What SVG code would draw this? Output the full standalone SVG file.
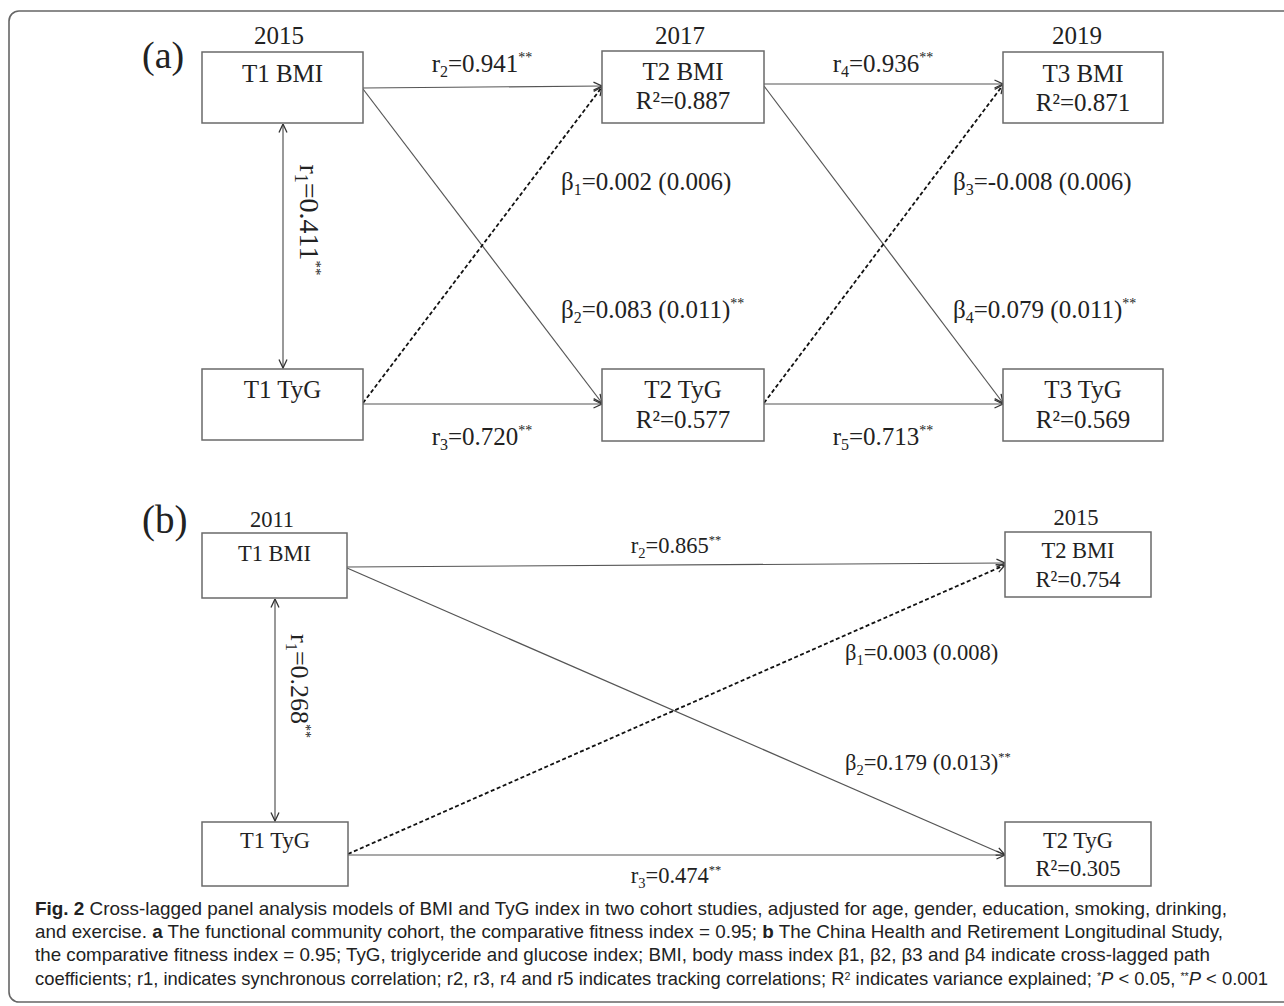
<svg xmlns="http://www.w3.org/2000/svg" width="1284" height="1006" viewBox="0 0 1284 1006">
<defs>
<style>
.frame{fill:none;stroke:#666;stroke-width:1.6}
.box{fill:#fff;stroke:#6a6a6a;stroke-width:1.5}
.t{font-family:"Liberation Serif","Times New Roman",serif;fill:#222}
.ta{font-size:25px}
.tb{font-size:22.5px}
.mid{text-anchor:middle}
.ln{fill:none;stroke:#555;stroke-width:1.2}
.dash{fill:none;stroke:#111;stroke-width:1.8;stroke-dasharray:4 2.5}
.cap{font-family:"Liberation Sans",Arial,sans-serif;font-size:19px;fill:#222}
</style>
<marker id="ah" viewBox="0 0 10 10" refX="9.5" refY="5" markerWidth="10" markerHeight="10" markerUnits="userSpaceOnUse" orient="auto-start-reverse">
<path d="M1,1 L9.5,5 L1,9" fill="none" stroke="#333" stroke-width="1.3"/>
</marker>
</defs>
<rect class="frame" x="9" y="11" width="1300" height="991" rx="10"/>

<!-- panel a -->
<text class="t" x="142" y="68" font-size="38">(a)</text>
<text class="t ta mid" x="279" y="44">2015</text>
<text class="t ta mid" x="680" y="44">2017</text>
<text class="t ta mid" x="1077" y="44">2019</text>

<g id="connectors-a">
<line class="ln" x1="283" y1="124" x2="283" y2="368" marker-start="url(#ah)" marker-end="url(#ah)"/>
<line class="ln" x1="363" y1="88" x2="602" y2="86" marker-end="url(#ah)"/>
<line class="ln" x1="363" y1="89" x2="602" y2="403" marker-end="url(#ah)"/>
<line class="dash" x1="363" y1="403" x2="602" y2="87" marker-end="url(#ah)"/>
<line class="ln" x1="363" y1="404" x2="602" y2="404" marker-end="url(#ah)"/>
<line class="ln" x1="764" y1="84" x2="1003" y2="84" marker-end="url(#ah)"/>
<line class="ln" x1="764" y1="86" x2="1003" y2="403" marker-end="url(#ah)"/>
<line class="dash" x1="764" y1="403" x2="1003" y2="85" marker-end="url(#ah)"/>
<line class="ln" x1="764" y1="404" x2="1003" y2="404" marker-end="url(#ah)"/>
</g>

<g id="a-T1BMI"><rect class="box" x="202" y="52" width="161" height="71"/><text class="t ta mid" x="282.5" y="82">T1 BMI</text></g>
<g id="a-T2BMI"><rect class="box" x="602" y="51" width="162" height="72"/><text class="t ta mid" x="683" y="80">T2 BMI</text><text class="t ta mid" x="683" y="109">R²=0.887</text></g>
<g id="a-T3BMI"><rect class="box" x="1003" y="52" width="160" height="71"/><text class="t ta mid" x="1083" y="82">T3 BMI</text><text class="t ta mid" x="1083" y="111">R²=0.871</text></g>
<g id="a-T1TyG"><rect class="box" x="202" y="369" width="161" height="71"/><text class="t ta mid" x="282.5" y="398">T1 TyG</text></g>
<g id="a-T2TyG"><rect class="box" x="602" y="369" width="162" height="72"/><text class="t ta mid" x="683" y="398">T2 TyG</text><text class="t ta mid" x="683" y="428">R²=0.577</text></g>
<g id="a-T3TyG"><rect class="box" x="1003" y="369" width="160" height="72"/><text class="t ta mid" x="1083" y="398">T3 TyG</text><text class="t ta mid" x="1083" y="428">R²=0.569</text></g>

<g id="labels-a">
<text class="t ta mid" x="482" y="72">r<tspan font-size="16" dy="5">2</tspan><tspan dy="-5">=0.941</tspan><tspan font-size="14" dy="-10">**</tspan></text>
<text class="t ta mid" x="883" y="72">r<tspan font-size="16" dy="5">4</tspan><tspan dy="-5">=0.936</tspan><tspan font-size="14" dy="-10">**</tspan></text>
<text class="t ta mid" x="482" y="445">r<tspan font-size="16" dy="5">3</tspan><tspan dy="-5">=0.720</tspan><tspan font-size="14" dy="-10">**</tspan></text>
<text class="t ta mid" x="883" y="445">r<tspan font-size="16" dy="5">5</tspan><tspan dy="-5">=0.713</tspan><tspan font-size="14" dy="-10">**</tspan></text>
<text class="t ta" x="561" y="190">β<tspan font-size="16" dy="5">1</tspan><tspan dy="-5">=0.002 (0.006)</tspan></text>
<text class="t ta" x="561" y="318">β<tspan font-size="16" dy="5">2</tspan><tspan dy="-5">=0.083 (0.011)</tspan><tspan font-size="14" dy="-10">**</tspan></text>
<text class="t ta" x="953" y="190">β<tspan font-size="16" dy="5">3</tspan><tspan dy="-5">=-0.008 (0.006)</tspan></text>
<text class="t ta" x="953" y="318">β<tspan font-size="16" dy="5">4</tspan><tspan dy="-5">=0.079 (0.011)</tspan><tspan font-size="14" dy="-10">**</tspan></text>
<text class="t mid" font-size="28" transform="translate(300,220) rotate(90)">r<tspan font-size="18" dy="5">1</tspan><tspan dy="-5">=0.411</tspan><tspan font-size="15" dy="-11">**</tspan></text>
</g>

<!-- panel b -->
<text class="t" x="142" y="533" font-size="39">(b)</text>
<text class="t tb mid" x="272" y="527">2011</text>
<text class="t tb mid" x="1076" y="525">2015</text>

<g id="connectors-b">
<line class="ln" x1="275" y1="599" x2="275" y2="821" marker-start="url(#ah)" marker-end="url(#ah)"/>
<line class="ln" x1="347" y1="567" x2="1005" y2="563" marker-end="url(#ah)"/>
<line class="ln" x1="347" y1="568" x2="1005" y2="855" marker-end="url(#ah)"/>
<line class="dash" x1="348" y1="854" x2="1005" y2="565" marker-end="url(#ah)"/>
<line class="ln" x1="348" y1="855" x2="1005" y2="855" marker-end="url(#ah)"/>
</g>

<g id="b-T1BMI"><rect class="box" x="202" y="533" width="145" height="65"/><text class="t tb mid" x="274.5" y="561">T1 BMI</text></g>
<g id="b-T1TyG"><rect class="box" x="202" y="822" width="146" height="64"/><text class="t tb mid" x="275" y="848">T1 TyG</text></g>
<g id="b-T2BMI"><rect class="box" x="1005" y="532" width="146" height="65"/><text class="t tb mid" x="1078" y="558">T2 BMI</text><text class="t tb mid" x="1078" y="587">R²=0.754</text></g>
<g id="b-T2TyG"><rect class="box" x="1005" y="822" width="146" height="64"/><text class="t tb mid" x="1078" y="848">T2 TyG</text><text class="t tb mid" x="1078" y="876">R²=0.305</text></g>

<g id="labels-b">
<text class="t tb mid" x="676" y="553">r<tspan font-size="14.5" dy="4.5">2</tspan><tspan dy="-4.5">=0.865</tspan><tspan font-size="12.5" dy="-9">**</tspan></text>
<text class="t tb mid" x="676" y="883">r<tspan font-size="14.5" dy="4.5">3</tspan><tspan dy="-4.5">=0.474</tspan><tspan font-size="12.5" dy="-9">**</tspan></text>
<text class="t tb" x="845" y="660">β<tspan font-size="14.5" dy="4.5">1</tspan><tspan dy="-4.5">=0.003 (0.008)</tspan></text>
<text class="t tb" x="845" y="770">β<tspan font-size="14.5" dy="4.5">2</tspan><tspan dy="-4.5">=0.179 (0.013)</tspan><tspan font-size="12.5" dy="-9">**</tspan></text>
<text class="t mid" font-size="26" transform="translate(291,686) rotate(90)">r<tspan font-size="16.5" dy="5">1</tspan><tspan dy="-5">=0.268</tspan><tspan font-size="14" dy="-10">**</tspan></text>
</g>

<!-- caption -->
<g id="caption">
<text class="cap" x="35" y="915" textLength="1192" lengthAdjust="spacingAndGlyphs"><tspan font-weight="bold">Fig. 2</tspan>  Cross-lagged panel analysis models of BMI and TyG index in two cohort studies, adjusted for age, gender, education, smoking, drinking,</text>
<text class="cap" x="35" y="938" textLength="1188" lengthAdjust="spacingAndGlyphs">and exercise. <tspan font-weight="bold">a</tspan> The functional community cohort, the comparative fitness index = 0.95; <tspan font-weight="bold">b</tspan> The China Health and Retirement Longitudinal Study,</text>
<text class="cap" x="35" y="961" textLength="1175" lengthAdjust="spacingAndGlyphs">the comparative fitness index = 0.95; TyG, triglyceride and glucose index; BMI, body mass index β1, β2, β3 and β4 indicate cross-lagged path</text>
<text class="cap" x="35" y="985" textLength="1233" lengthAdjust="spacingAndGlyphs">coefficients; r1, indicates synchronous correlation; r2, r3, r4 and r5 indicates tracking correlations; R<tspan font-size="11" dy="-5">2</tspan><tspan dy="5"> indicates variance explained; </tspan><tspan font-size="11" dy="-5">*</tspan><tspan dy="5" font-style="italic">P</tspan> &lt; 0.05, <tspan font-size="11" dy="-5">**</tspan><tspan dy="5" font-style="italic">P</tspan> &lt; 0.001</text>
</g>
</svg>
